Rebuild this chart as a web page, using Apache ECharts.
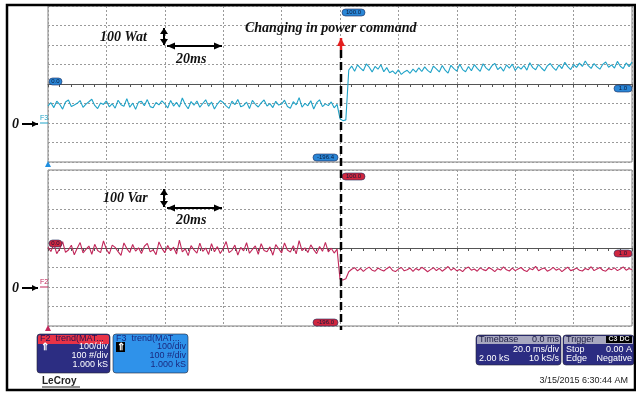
<!DOCTYPE html>
<html><head><meta charset="utf-8">
<script src="https://cdn.jsdelivr.net/npm/echarts@6/dist/echarts.min.js"></script>
<style>html,body{margin:0;padding:0;background:#fff}#c{width:636px;height:394px}</style>
</head><body><div id="c"></div><script>
// ---- data ----
const SAMPLE_MS = 1;           // one sample per ms, 0..200 ms
const STEP_TIME_MS = 100;      // power command change
const timeRange = [0, 200];
const yRange = [-200, 600];    // 100 per division, 0 two divisions above the bottom

const activePowerBefore = [88,104,79,112,96,71,108,118,85,92,101,115,80,97,109,122,90,74,103,95,
113,83,99,76,117,94,86,125,81,102,70,107,111,89,120,84,78,105,93,114,
98,77,116,87,106,82,128,95,73,110,91,113,81,100,119,86,108,72,97,115,
105,88,75,112,94,121,83,90,107,74,116,96,82,103,118,87,99,79,111,92,
97,117,85,76,109,93,130,81,101,88,114,72,104,119,84,98,89,108,78,95];
const activePowerDip = [22,12,16];
const activePowerAfter = [272,292,265,298,281,268,303,286,262,290,
276,299,263,284,258,267,252,273,249,262,
270,255,276,261,283,264,288,270,258,292,
277,262,295,271,256,296,279,266,301,274,
263,290,268,299,280,265,304,283,270,293,
306,274,287,266,298,281,302,269,289,276,
295,271,309,284,273,300,282,267,293,305,
284,270,298,279,311,289,274,300,285,307,
290,318,294,280,305,288,276,301,313,286,
298,282,316,291,279,308,289,312];

const reactivePowerBefore = [205,182,221,171,196,232,178,190,214,165,
199,228,175,193,210,168,219,187,176,236,
194,170,215,203,181,162,226,197,177,218,
184,201,172,209,224,180,191,166,231,198,
176,213,186,204,169,240,180,196,161,212,
190,174,225,183,200,167,222,181,207,172,
197,233,176,188,215,164,203,185,227,173,
193,211,168,222,187,181,206,163,217,196,
175,226,190,179,212,170,238,186,201,177,
216,192,171,208,183,229,180,199,174,194];
const reactivePowerDip = [40,36,42];
const reactivePowerAfter = [78,91,99,83,95,80,93,102,86,81,
97,89,82,94,104,85,79,92,100,83,
88,97,80,95,86,101,91,78,89,99,
84,96,81,92,105,86,97,83,90,79,
95,102,86,92,81,98,89,84,100,91,
79,94,87,103,88,82,97,84,92,100,
86,79,95,89,106,83,92,98,81,88,
101,86,94,79,91,102,84,89,97,86,
82,95,88,104,84,92,100,86,81,95,
89,98,84,92,103,86,95,89];

const activePower = activePowerBefore.concat(activePowerDip, activePowerAfter);
const reactivePower = reactivePowerBefore.concat(reactivePowerDip, reactivePowerAfter);
const toPairs = arr => arr.map((v, i) => [i * SAMPLE_MS, v]);

// ---- styles ----
const CYAN = '#1fa3c8', CRIMSON = '#c2285b', NAVY = '#2c2d82', GRIDC = '#9a9a9a';
const SERIF = '"Liberation Serif","DejaVu Serif",serif';
const SANS = '"Liberation Sans",Arial,sans-serif';

const chart = echarts.init(document.getElementById('c'), null, {renderer: 'canvas'});

function gridAxes(gi) {
  return {
    x: [{
      gridIndex: gi, type: 'value', min: timeRange[0], max: timeRange[1], interval: 20,
      axisLabel: {show: false}, axisTick: {show: false}, axisLine: {show: false},
      splitLine: {show: true, lineStyle: {color: GRIDC, type: [2, 2], width: 1}}
    }, {
      gridIndex: gi, type: 'value', min: timeRange[0], max: timeRange[1], interval: 20,
      position: 'bottom', offset: -78,
      axisLabel: {show: false},
      axisLine: {show: true, lineStyle: {color: '#555', width: 1}},
      axisTick: {show: true, length: 3, lineStyle: {color: '#555'}},
      minorTick: {show: true, splitNumber: 5, length: 3, lineStyle: {color: '#555'}},
      splitLine: {show: false}
    }],
    y: {
      gridIndex: gi, type: 'value', min: yRange[0], max: yRange[1], interval: 100,
      axisLabel: {show: false}, axisTick: {show: false}, axisLine: {show: false},
      splitLine: {show: true, lineStyle: {color: GRIDC, type: [2, 2], width: 1}}
    }
  };
}
const a0 = gridAxes(0), a1 = gridAxes(1);

const option = {
  animation: false,
  backgroundColor: '#fff',
  grid: [
    {left: 48, top: 6, width: 584, height: 156, show: true, borderColor: '#808080', borderWidth: 1, backgroundColor: 'transparent'},
    {left: 48, top: 170, width: 584, height: 156, show: true, borderColor: '#808080', borderWidth: 1, backgroundColor: 'transparent'}
  ],
  xAxis: [...a0.x, ...a1.x],
  yAxis: [a0.y, a1.y],
  series: [
    {type: 'line', xAxisIndex: 0, yAxisIndex: 0, data: toPairs(activePower), showSymbol: false,
     lineStyle: {color: CYAN, width: 1.1}, z: 5},
    {type: 'line', xAxisIndex: 2, yAxisIndex: 1, data: toPairs(reactivePower), showSymbol: false,
     lineStyle: {color: CRIMSON, width: 1.1}, z: 5}
  ]
};
chart.setOption(option);

// ---- annotations (graphic layer) ----
function headPts(x1, y1, x2, y2, len, half) {
  const dx = x2 - x1, dy = y2 - y1, L = Math.hypot(dx, dy), ux = dx / L, uy = dy / L;
  return [[x2, y2], [x2 - ux * len - uy * half, y2 - uy * len + ux * half], [x2 - ux * len + uy * half, y2 - uy * len - ux * half]];
}
function arrow(x1, y1, x2, y2, color, w, both, len, half) {
  len = len || 7; half = half || 3.5;
  const out = [{type: 'line', shape: {x1, y1, x2, y2}, style: {stroke: color, lineWidth: w}, z: 50}];
  out.push({type: 'polygon', shape: {points: headPts(x1, y1, x2, y2, len, half)}, style: {fill: color}, z: 50});
  if (both) out.push({type: 'polygon', shape: {points: headPts(x2, y2, x1, y1, len, half)}, style: {fill: color}, z: 50});
  return out;
}
function txt(x, y, text, font, color, align, extra) {
  return Object.assign({type: 'text', x, y, style: {text, font, fill: color, textAlign: align || 'left', textVerticalAlign: 'middle'}, z: 60}, extra || {});
}
function badge(x, y, w, text, fill) {
  return [{type: 'rect', shape: {x, y, width: w, height: 7, r: 3.5}, style: {fill, stroke: '#1b2a5a', lineWidth: 0.6}, z: 40},
          txt(x + w / 2, y + 3.7, text, '6px ' + SANS, '#0b1a3a', 'center')];
}

const stepX = chart.convertToPixel({xAxisIndex: 0}, STEP_TIME_MS);
const zeroTop = chart.convertToPixel({yAxisIndex: 0}, 0);
const zeroBot = chart.convertToPixel({yAxisIndex: 1}, 0);
const BI = 'italic bold 14px ' + SERIF;

let g = [];
// outer frame
g.push({type: 'rect', shape: {x: 7, y: 5, width: 628, height: 385}, style: {fill: 'none', stroke: '#000', lineWidth: 2.5}, z: 100});

// top panel annotations
g.push(txt(100, 37, '100 Wat', BI, '#111'));
g = g.concat(arrow(164, 28, 164, 45, '#000', 2, true, 6, 4));
g = g.concat(arrow(167, 46, 222, 46, '#000', 2, true, 8, 3.5));
g.push(txt(176, 59, '20ms', BI, '#111'));
g.push(txt(245, 28, 'Changing in power command', BI, '#111'));
g = g.concat(arrow(stepX + 1, 50, stepX + 1, 38, '#e41e1e', 2.5, false, 8, 4));
// dashed step marker
g.push({type: 'line', shape: {x1: stepX + 1, y1: 50, x2: stepX + 1, y2: 330}, style: {stroke: '#000', lineWidth: 2.5, lineDash: [8, 4]}, z: 45});

// bottom panel annotations
g.push(txt(103, 198, '100 Var', BI, '#111'));
g = g.concat(arrow(164, 189, 164, 207, '#000', 2, true, 6, 4));
g = g.concat(arrow(167, 208, 222, 208, '#000', 2, true, 8, 3.5));
g.push(txt(176, 220, '20ms', BI, '#111'));

// zero markers
g.push(txt(12, zeroTop + 1, '0', BI, '#111'));
g = g.concat(arrow(22, zeroTop + 1, 38, zeroTop + 1, '#000', 2, false, 6, 3));
g.push(txt(40, zeroTop - 5, 'F3', '7px ' + SANS, CYAN));
g.push({type: 'line', shape: {x1: 40, y1: zeroTop, x2: 48, y2: zeroTop}, style: {stroke: CYAN, lineWidth: 1}, z: 50});
g.push(txt(12, zeroBot + 1, '0', BI, '#111'));
g = g.concat(arrow(22, zeroBot + 1, 38, zeroBot + 1, '#000', 2, false, 6, 3));
g.push(txt(40, zeroBot - 5, 'F2', '7px ' + SANS, CRIMSON));
g.push({type: 'line', shape: {x1: 40, y1: zeroBot, x2: 48, y2: zeroBot}, style: {stroke: CRIMSON, lineWidth: 1}, z: 50});

// trigger triangles
g.push({type: 'polygon', shape: {points: [[48, 161], [45, 167], [51, 167]]}, style: {fill: '#1e8fe0'}, z: 50});
g.push({type: 'polygon', shape: {points: [[48, 325], [45, 331], [51, 331]]}, style: {fill: CRIMSON}, z: 50});

// badges
g = g.concat(badge(49, 78, 13, '0.0', '#2a86d6'));
g = g.concat(badge(342, 9, 23, '100.0', '#2a86d6'));
g = g.concat(badge(313, 154, 25, '-196.4', '#2a86d6'));
g = g.concat(badge(614, 85, 18, '1.0', '#2a86d6'));
g = g.concat(badge(49, 240, 13, '0.0', '#d0263f'));
g = g.concat(badge(342, 173, 23, '100.0', '#d0263f'));
g = g.concat(badge(313, 319, 25, '-196.0', '#d0263f'));
g = g.concat(badge(614, 250, 18, '1.0', '#d0263f'));

// info boxes
const F9 = '9px ' + SANS;
function box(x, y, w, h, body, head, headH) {
  return [{type: 'rect', shape: {x, y, width: w, height: h, r: 3}, style: {fill: body, stroke: '#223', lineWidth: 0.6}, z: 40},
          {type: 'rect', shape: {x: x + 1, y: y + 1, width: w - 2, height: headH, r: [2, 2, 0, 0]}, style: {fill: head}, z: 41}];
}
// F2
g = g.concat(box(37, 334, 73, 39, NAVY, '#e83347', 9));
g.push(txt(40, 338.5, 'F2  trend(MAT...', F9, '#2a1050'));
g.push(txt(41, 347, '⇑', 'bold 10px ' + SANS, '#fff'));
g.push(txt(108, 347, '100/div', F9, '#fff', 'right'));
g.push(txt(108, 356, '100 #/div', F9, '#fff', 'right'));
g.push(txt(108, 365, '1.000 kS', F9, '#fff', 'right'));
// F3
g = g.concat(box(113, 334, 75, 39, '#2f92ea', '#2f92ea', 9));
g.push(txt(116, 338.5, 'F3  trend(MAT...', F9, '#1a2a80'));
g.push({type: 'rect', shape: {x: 116, y: 342, width: 9, height: 10}, style: {fill: '#000'}, z: 45});
g.push(txt(117, 347, '⇑', 'bold 10px ' + SANS, '#fff'));
g.push(txt(186, 347, '100/div', F9, '#1a2a80', 'right'));
g.push(txt(186, 356, '100 #/div', F9, '#1a2a80', 'right'));
g.push(txt(186, 365, '1.000 kS', F9, '#1a2a80', 'right'));
// LeCroy
g.push(txt(42, 381, 'LeCroy', 'bold 10px ' + SANS, '#222'));
g.push({type: 'line', shape: {x1: 42, y1: 387, x2: 80, y2: 387}, style: {stroke: '#222', lineWidth: 1}, z: 50});
// Timebase
g = g.concat(box(476, 335, 85, 30, NAVY, '#a8a8c0', 8));
g.push(txt(479, 339.5, 'Timebase', F9, '#1a1a40'));
g.push(txt(559, 339.5, '0.0 ms', F9, '#1a1a40', 'right'));
g.push(txt(559, 350, '20.0 ms/div', F9, '#fff', 'right'));
g.push(txt(479, 359, '2.00 kS', F9, '#fff'));
g.push(txt(559, 359, '10 kS/s', F9, '#fff', 'right'));
// Trigger
g = g.concat(box(563, 335, 71, 30, NAVY, '#a8a8c0', 8));
g.push(txt(566, 339.5, 'Trigger', F9, '#1a1a40'));
g.push({type: 'rect', shape: {x: 606, y: 336, width: 26, height: 7}, style: {fill: '#000'}, z: 45});
g.push(txt(619, 339.5, 'C3 DC', 'bold 7px ' + SANS, '#ddd', 'center'));
g.push(txt(566, 350, 'Stop', F9, '#fff'));
g.push(txt(632, 350, '0.00 A', F9, '#fff', 'right'));
g.push(txt(566, 359, 'Edge', F9, '#fff'));
g.push(txt(632, 359, 'Negative', F9, '#fff', 'right'));
// date
g.push(txt(628, 381, '3/15/2015 6:30:44 AM', F9, '#222', 'right'));

chart.setOption({graphic: g});
</script></body></html>
